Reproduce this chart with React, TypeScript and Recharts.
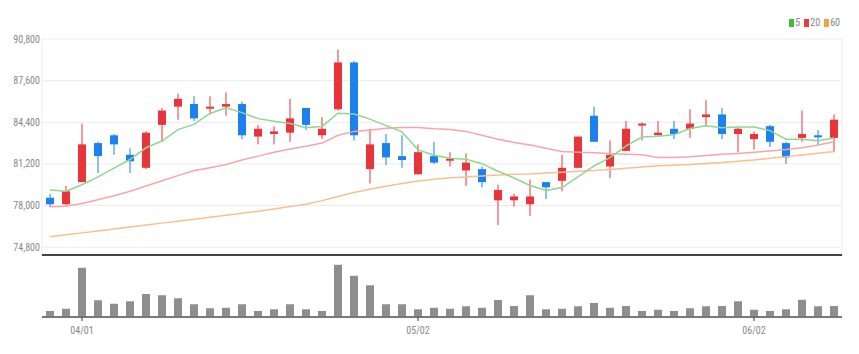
import { ComposedChart, BarChart, Bar, Line, XAxis, YAxis, CartesianGrid, Legend } from 'recharts'

const dates = [
  '03/28', '03/29', '04/01', '04/02', '04/03', '04/04', '04/05', '04/08', '04/09', '04/11',
  '04/12', '04/15', '04/16', '04/17', '04/18', '04/19', '04/22', '04/23', '04/24', '04/25',
  '04/26', '04/29', '04/30', '05/02', '05/03', '05/06', '05/07', '05/08', '05/09', '05/10',
  '05/13', '05/14', '05/16', '05/17', '05/20', '05/21', '05/22', '05/23', '05/24', '05/27',
  '05/28', '05/29', '05/30', '05/31', '06/02', '06/03', '06/04', '06/05', '06/07', '06/10',
]
const opens = [
  78600, 78100, 79800, 82800, 83400, 81900, 80900, 84200, 85600, 85800,
  85500, 85600, 85800, 83300, 83500, 83600, 85500, 83400, 85400, 89000,
  80800, 82800, 81800, 80400, 81800, 81500, 80700, 80800, 78400, 78400,
  78100, 79800, 79900, 80900, 84900, 81000, 82200, 84200, 83400, 83900,
  83900, 84800, 85000, 83500, 83100, 84100, 82800, 83200, 83400, 83200,
]
const highs = [
  78900, 79500, 84300, 82900, 83500, 82400, 83700, 85500, 86600, 86400,
  86400, 86700, 86000, 84200, 84100, 86200, 85500, 84800, 90000, 89100,
  83900, 83500, 83400, 82700, 82900, 82100, 82000, 81000, 79600, 78900,
  80000, 79800, 81900, 83300, 85600, 83000, 84500, 84400, 84500, 84500,
  85400, 86100, 85500, 84000, 83700, 84200, 82900, 85300, 83800, 85000,
]
const lows = [
  77900, 78000, 79800, 80500, 81900, 80500, 80800, 82900, 84600, 84500,
  85000, 84900, 83100, 82700, 82700, 82900, 83800, 83100, 85300, 83000,
  79700, 81100, 80900, 80400, 81200, 81000, 79500, 79400, 76500, 77900,
  77200, 78500, 79100, 80900, 82900, 80100, 82200, 83000, 83400, 83100,
  83200, 84100, 83100, 82100, 82300, 82500, 81200, 82900, 82600, 82100,
]
const closes = [
  78100, 79100, 82700, 81800, 82700, 81400, 83600, 85300, 86200, 84700,
  85600, 85800, 83400, 83900, 83700, 84700, 84200, 83900, 89000, 83400,
  82700, 81700, 81500, 82100, 81300, 81600, 81300, 79800, 79200, 78700,
  78700, 79400, 80900, 83300, 82900, 81900, 83900, 84300, 83600, 83500,
  84300, 85000, 83500, 83900, 83500, 82900, 81700, 83500, 83300, 84600,
]
// thousand shares
const volumes = [
  2400, 3300, 19700, 6700, 5300, 6300, 9200, 8700, 7500, 5100,
  3500, 3700, 5100, 2400, 3100, 5100, 3100, 2400, 20900, 16500,
  12700, 5100, 5100, 3100, 3700, 3300, 4300, 3700, 6800, 4400,
  8700, 3100, 3300, 4300, 5600, 3700, 4400, 2400, 2900, 2400,
  3500, 4300, 4400, 6300, 2900, 2400, 3100, 6900, 4300, 4400,
]
const ma5 = [
  79200, 79100, 79600, 80200, 80880, 81540, 82440, 82960, 83840, 84240,
  85080, 85520, 85140, 84680, 84480, 84300, 83980, 84080, 85100, 85040,
  84640, 84140, 83660, 82280, 81860, 81640, 81560, 81220, 80640, 80120,
  79540, 79160, 79380, 80200, 81040, 81680, 82580, 83260, 83320, 83440,
  83920, 84140, 83980, 84040, 84040, 83760, 83100, 83100, 82980, 83200,
]
const ma20 = [
  77900, 77950, 78150, 78450, 78750, 79100, 79500, 79900, 80300, 80700,
  80900, 81150, 81500, 81800, 82100, 82350, 82550, 82800, 83400, 83700,
  83800, 83950, 84000, 84000, 83900, 83850, 83700, 83400, 83100, 82850,
  82650, 82400, 82150, 82100, 82050, 82000, 81950, 81900, 81700, 81700,
  81750, 81850, 81950, 82000, 82100, 82200, 82300, 82450, 82650, 82900,
]
const ma60 = [
  75600, 75750, 75900, 76050, 76200, 76350, 76500, 76650, 76800, 76950,
  77100, 77250, 77400, 77570, 77740, 77920, 78100, 78380, 78690, 79000,
  79250, 79480, 79700, 79880, 80030, 80130, 80200, 80280, 80350, 80400,
  80430, 80500, 80560, 80630, 80690, 80780, 80870, 80960, 81050, 81100,
  81150, 81230, 81300, 81400, 81500, 81630, 81760, 81890, 82020, 82150,
]
const priceTicks = [74800, 78000, 81200, 84400, 87600, 90800]
const dateTicks = ['04/01', '05/02', '06/02']

const legendItems = [
  { label: '5', color: '#3dbb3d' },
  { label: '20', color: '#ee3a3f' },
  { label: '60', color: '#f3a243' },
]

const rows = dates.map((date, i) => ({
  date,
  open: opens[i],
  high: highs[i],
  low: lows[i],
  close: closes[i],
  volume: volumes[i],
  ma5: ma5[i],
  ma20: ma20[i],
  ma60: ma60[i],
}))

const FONT = "'Liberation Sans Narrow', 'Roboto Condensed', 'Arial Narrow', sans-serif"
const UP = '#e8343b'
const DOWN = '#1c80ee'

function Candle(props: any) {
  const { x, y, width, height, payload } = props
  if (!payload) return null
  const { open, close, high, low } = payload
  const range = high - low || 1
  const toY = (v: number) => y + ((high - v) / range) * height
  const color = close >= open ? UP : DOWN
  const top = toY(Math.max(open, close))
  const bottom = toY(Math.min(open, close))
  const cx = x + width / 2
  return (
    <g>
      <line x1={cx} x2={cx} y1={y} y2={y + height} stroke={color} strokeWidth={1} />
      <rect x={x} y={top} width={width} height={Math.max(bottom - top, 2)} fill={color} />
    </g>
  )
}

function LegendContent() {
  return (
    <div style={{ display: 'flex', alignItems: 'center', fontFamily: FONT, fontSize: 10, color: '#888', lineHeight: '12px' }}>
      {legendItems.map((it) => (
        <span key={it.label} style={{ display: 'flex', alignItems: 'center', marginLeft: 4 }}>
          <span style={{ display: 'inline-block', width: 5, height: 8, background: it.color, marginRight: 1 }} />
          {it.label}
        </span>
      ))}
    </div>
  )
}

export default function App() {
  return (
    <div style={{ position: 'absolute', left: 0, top: 0, width: 859, height: 354, background: '#fff', fontFamily: FONT }}>
      <ComposedChart width={859} height={258} data={rows} margin={{ top: 39, right: 17, left: 0, bottom: 1 }}>
        <CartesianGrid stroke="#ececec" />
        <XAxis
          dataKey="date"
          ticks={dateTicks}
          interval={0}
          tick={false}
          tickLine={false}
          height={2}
          axisLine={{ stroke: '#444', strokeWidth: 2 }}
        />
        <YAxis
          domain={[74200, 90800]}
          allowDataOverflow
          ticks={priceTicks}
          width={42}
          axisLine={false}
          tickLine={false}
          tickSize={0}
          tickMargin={2}
          tick={{ fontSize: 10, fill: '#888', fontFamily: FONT }}
          tickFormatter={(v: number) => v.toLocaleString('en-US')}
        />
        {/* vertical + center + middle keeps the legend out of the plot offset */}
        <Legend
          layout="vertical"
          align="center"
          verticalAlign="middle"
          wrapperStyle={{ top: 17, right: 19, width: 'auto' }}
          content={<LegendContent />}
        />
        <Line dataKey="ma60" stroke="#f7c08e" strokeWidth={1.5} dot={false} isAnimationActive={false} />
        <Line dataKey="ma20" stroke="#f5a6aa" strokeWidth={1.5} dot={false} isAnimationActive={false} />
        <Line dataKey="ma5" stroke="#8fd68f" strokeWidth={1.5} dot={false} isAnimationActive={false} />
        <Bar
          dataKey={(d: any) => [d.low, d.high]}
          barSize={8}
          shape={<Candle />}
          isAnimationActive={false}
        />
      </ComposedChart>
      <BarChart width={859} height={96} data={rows} margin={{ top: 4, right: 17, left: 42, bottom: 0 }}>
        <XAxis
          dataKey="date"
          ticks={dateTicks}
          interval={0}
          height={37}
          tickSize={4}
          tickMargin={6}
          tickLine={{ stroke: '#333' }}
          axisLine={{ stroke: '#777', strokeWidth: 2 }}
          tick={{ fontSize: 10, fill: '#888', fontFamily: FONT }}
        />
        <YAxis hide domain={[0, 22000]} />
        <Bar dataKey="volume" fill="#8e8e8e" barSize={8} isAnimationActive={false} />
      </BarChart>
    </div>
  )
}
